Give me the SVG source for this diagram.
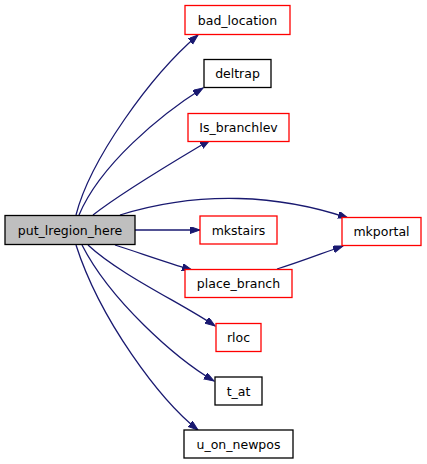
<svg xmlns="http://www.w3.org/2000/svg" width="427" height="464" viewBox="0 0 427 464">
<style>
.n rect{fill:#fff;stroke-width:1.3}
.r rect{stroke:#ff0000}
.b rect{stroke:#000}
.n text{font-family:"DejaVu Sans",sans-serif;font-size:12.5px;text-anchor:middle;fill:#000}
.e path{fill:none;stroke:#191970;stroke-width:1.3;marker-end:url(#a)}
</style>
<defs>
<marker id="a" markerUnits="userSpaceOnUse" markerWidth="11" markerHeight="8" refX="10" refY="3.5" orient="auto"><path d="M0,0 L10,3.5 L0,7 z" fill="#191970" stroke="#191970"/></marker>
</defs>
<rect width="427" height="464" fill="#fff"/>
<g id="edges" class="e">
<path d="M76,215 C90,160 150,76 198,35"/>
<path d="M79,215 C100,165 160,115 203,88"/>
<path d="M93,215 C125,190 180,158 210,140"/>
<path d="M120,215 C200,190 280,195 348,218"/>
<path d="M135,230 L200,230"/>
<path d="M115,245 C140,253 165,262 192,270"/>
<path d="M277,269 C300,262 320,254 343,246"/>
<path d="M88,245 C120,275 185,305 215,326"/>
<path d="M82,245 C110,300 175,358 214,381"/>
<path d="M76,245 C100,320 160,400 198,430"/>
</g>
<g id="put_lregion_here" class="n b"><rect x="5" y="215.5" width="130" height="29" style="fill:#bfbfbf"/><text x="70" y="234.5">put_lregion_here</text></g>
<g id="bad_location" class="n r"><rect x="185" y="5.5" width="105" height="29"/><text x="237.5" y="24.5">bad_location</text></g>
<g id="deltrap" class="n b"><rect x="204" y="59.5" width="67" height="28"/><text x="237.5" y="78">deltrap</text></g>
<g id="Is_branchlev" class="n r"><rect x="188" y="113.5" width="101" height="28"/><text x="238.5" y="132">Is_branchlev</text></g>
<g id="mkstairs" class="n r"><rect x="200" y="216" width="77" height="28"/><text x="238.5" y="234.5">mkstairs</text></g>
<g id="mkportal" class="n r"><rect x="342" y="217.5" width="79" height="28"/><text x="381.5" y="236">mkportal</text></g>
<g id="place_branch" class="n r"><rect x="185" y="269.5" width="107" height="28"/><text x="238.5" y="288">place_branch</text></g>
<g id="rloc" class="n r"><rect x="216" y="323.5" width="45" height="28"/><text x="238.5" y="342">rloc</text></g>
<g id="t_at" class="n b"><rect x="215" y="377" width="47" height="28"/><text x="238.5" y="395.5">t_at</text></g>
<g id="u_on_newpos" class="n b"><rect x="184" y="430" width="109" height="28"/><text x="238.5" y="448.5">u_on_newpos</text></g>
</svg>
